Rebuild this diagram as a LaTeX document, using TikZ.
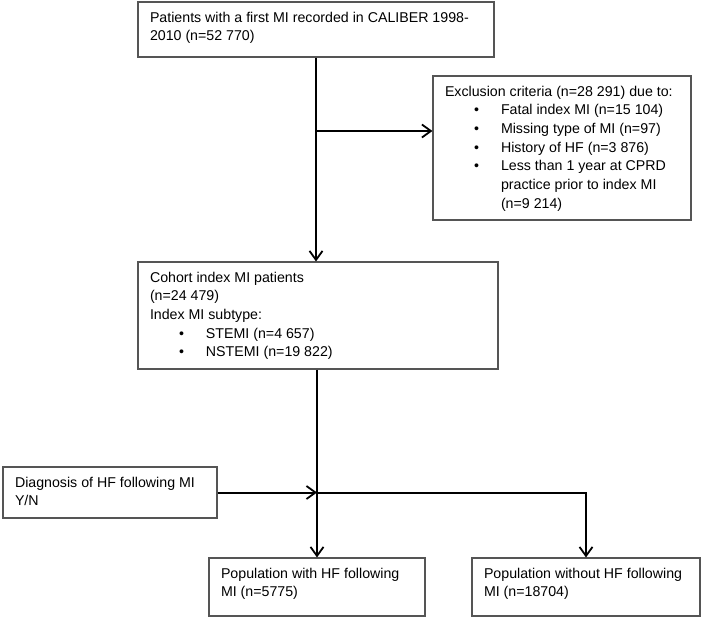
\documentclass[tikz,border=0pt]{standalone}
\usepackage{fontspec}
\setmainfont{Liberation Sans}
\usetikzlibrary{arrows.meta}
\definecolor{boxline}{RGB}{85,85,85}
\newcommand{\boxtext}[3]{\parbox[c][#2][t]{#1}{\raggedright\leftskip=12pt\strut #3}}
\newcommand{\bul}[1]{\par\hangindent=56pt\hangafter=1\noindent\hspace*{29pt}\makebox[27pt][l]{\textbullet}#1}
\begin{document}
\begin{tikzpicture}[x=1pt,y=-1pt,
	box/.style={draw=boxline, line width=1.1pt, inner xsep=0pt, inner ysep=7pt, font=\fontsize{14.2}{18.7}\selectfont},
	conn/.style={draw=black, line width=2pt},
	arr/.style={conn, -{Straight Barb[length=9pt,width=13pt,line width=1.8pt]}}]
	\useasboundingbox (0,0) rectangle (703,619);
	\node [box] (start) at (316,29.5) {\boxtext{356pt}{41pt}{Patients with a first MI recorded in CALIBER 1998-\\2010 (n=52 770)}};
	\node [box] (excl) at (562,148) {\boxtext{258pt}{130pt}{Exclusion criteria (n=28 291) due to:
		\bul{Fatal index MI (n=15 104)}
		\bul{Missing type of MI (n=97)}
		\bul{History of HF (n=3 876)}
		\bul{Less than 1 year at CPRD\newline practice prior to index MI\newline (n=9 214)}}};
	\node [box] (cohort) at (318,315.5) {\boxtext{360pt}{93pt}{Cohort index MI patients\\(n=24 479)\\Index MI subtype:
		\bul{STEMI (n=4 657)}
		\bul{NSTEMI (n=19 822)}}};
	\node [box] (diag) at (110,492.5) {\boxtext{214pt}{37pt}{Diagnosis of HF following MI\\Y/N}};
	\node [box] (withhf) at (317,587) {\boxtext{216pt}{44pt}{Population with HF following\\MI (n=5775)}};
	\node [box] (withouthf) at (586,587) {\boxtext{228pt}{44pt}{Population without HF following\\MI (n=18704)}};
	\coordinate (split) at (start.south |- 0,131);
	\coordinate (join) at (diag.east -| withhf.north);
	\draw [arr] (start.south) -- (start.south |- cohort.north);
	\draw [arr] (split) -- (split -| excl.west);
	\draw [arr] (withhf.north |- cohort.south) -- (withhf.north);
	\draw [arr] (diag.east) -- (join);
	\draw [arr] (join) -- (join -| withouthf.north) -- (withouthf.north);
\end{tikzpicture}
\end{document}
